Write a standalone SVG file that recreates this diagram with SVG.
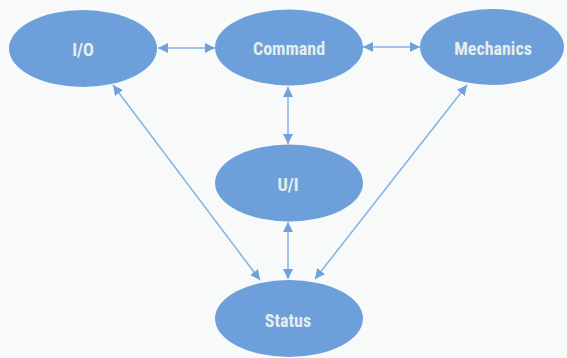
<svg xmlns="http://www.w3.org/2000/svg" width="567" height="358" viewBox="0 0 567 358">
  <defs>
    <marker id="ah" viewBox="0 0 10 10" refX="10" refY="5" markerWidth="10" markerHeight="10" markerUnits="userSpaceOnUse" orient="auto-start-reverse">
      <path d="M0,0 L10,5 L0,10 Z" fill="#6fa2dc"/>
    </marker>
  </defs>
  <style>
    .node ellipse { fill: #6d9fdb; }
    .node text { font-family: "Liberation Sans Narrow", "Roboto Condensed", "Liberation Sans", sans-serif; font-weight: bold; font-size: 18px; fill: #e4eeec; text-anchor: middle; dominant-baseline: central; }
    .edge { stroke: #86b2e2; stroke-width: 1.5; fill: none; marker-start: url(#ah); marker-end: url(#ah); }
  </style>
  <rect width="567" height="358" fill="#f7faf8"/>
  <g id="connectors">
    <line class="edge" x1="158" y1="48" x2="215" y2="48"/>
    <line class="edge" x1="363" y1="47" x2="420" y2="47"/>
    <line class="edge" x1="288" y1="87" x2="288" y2="144"/>
    <line class="edge" x1="288" y1="222" x2="288" y2="279"/>
    <line class="edge" x1="113" y1="85" x2="260" y2="280"/>
    <line class="edge" x1="467" y1="85" x2="315" y2="279"/>
  </g>
  <g id="io" class="node">
    <ellipse cx="83" cy="48.5" rx="74" ry="38.5"/>
    <text x="83" y="49">I/O</text>
  </g>
  <g id="command" class="node">
    <ellipse cx="289" cy="47.5" rx="74" ry="38"/>
    <text x="289" y="48">Command</text>
  </g>
  <g id="mechanics" class="node">
    <ellipse cx="492" cy="47" rx="72" ry="38"/>
    <text x="493" y="48">Mechanics</text>
  </g>
  <g id="ui" class="node">
    <ellipse cx="289" cy="183" rx="74" ry="38.5"/>
    <text x="288" y="184">U/I</text>
  </g>
  <g id="status" class="node">
    <ellipse cx="289" cy="318.5" rx="74" ry="38.5"/>
    <text x="288" y="320">Status</text>
  </g>
</svg>
